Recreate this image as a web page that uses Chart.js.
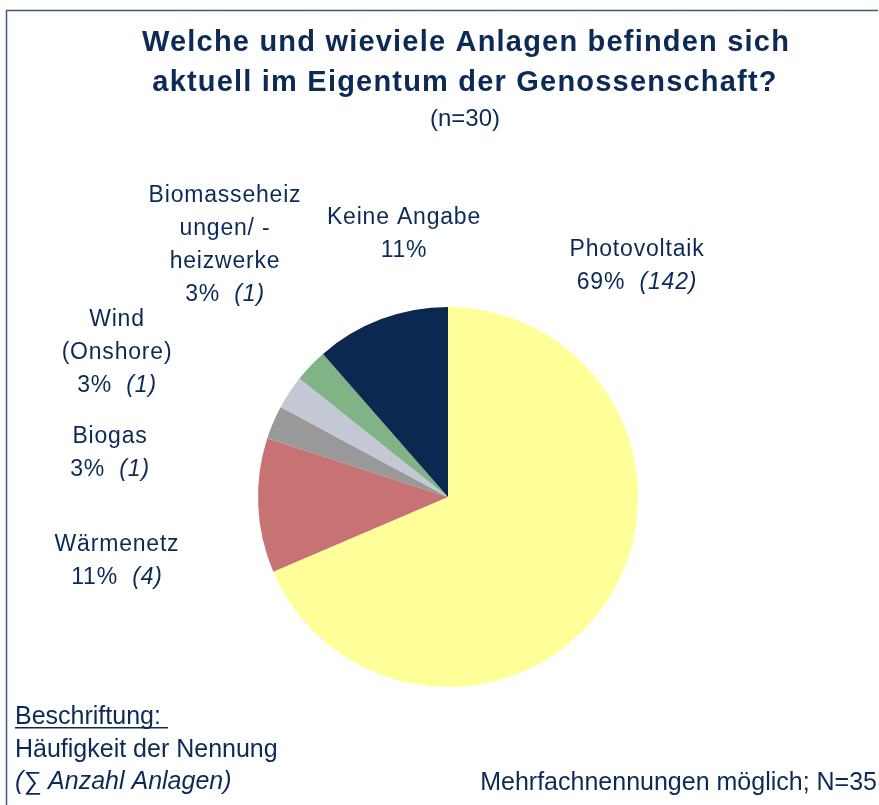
<!DOCTYPE html>
<html lang="de">
<head>
<meta charset="utf-8">
<title>Anlagen im Eigentum der Genossenschaft</title>
<script src="https://cdn.jsdelivr.net/npm/chart.js@4.4.1/dist/chart.umd.min.js"></script>
<style>
  html, body { margin: 0; padding: 0; background: #ffffff; }
  #wrap { position: relative; width: 879px; height: 805px; }
</style>
</head>
<body>
<div id="wrap"><canvas id="pieChart" width="879" height="805"></canvas></div>
<script>
// Data (N=35 Nennungen, n=30 Genossenschaften)
const categories = ['Photovoltaik', 'Wärmenetz', 'Biogas', 'Wind (Onshore)', 'Biomasseheizungen/ -heizwerke', 'Keine Angabe'];
const mentions = [24, 4, 1, 1, 1, 4];
const plantCounts = ['142', '4', '1', '1', '1', null];
const labelLines = [
  ['Photovoltaik'],
  ['Wärmenetz'],
  ['Biogas'],
  ['Wind', '(Onshore)'],
  ['Biomasseheiz', 'ungen/ -', 'heizwerke'],
  ['Keine Angabe']
];
const sliceColors = ['#ffff99', '#c87373', '#999999', '#c3c8d4', '#80b385', '#0b2850'];

const titleLines = ['Welche und wieviele Anlagen befinden sich', 'aktuell im Eigentum der Genossenschaft?'];
const subtitle = '(n=30)';
const legendNote = ['Beschriftung:', 'Häufigkeit der Nennung', '(∑ Anzahl Anlagen)'];
const footNote = 'Mehrfachnennungen möglich; N=35';

// Layout of the free-standing labels (centre x, y of first line)
const labelAnchor = [[637, 250], [117, 545], [110, 437], [117, 320], [225, 196], [404, 218]];
const lineGap = 33;
const textColor = '#0c2a56';
const fontFamily = "'Liberation Sans', Arial, sans-serif";

// Helpers

function percent(i) {
  const total = mentions.reduce((a, b) => a + b, 0);
  return Math.round(mentions[i] / total * 100) + '%';
}

function drawPctLine(ctx, i, x, y) {
  const pct = percent(i);
  const cnt = plantCounts[i] ? '(' + plantCounts[i] + ')' : '';
  ctx.font = '23px ' + fontFamily;
  const w1 = ctx.measureText(pct + (cnt ? '  ' : '')).width;
  ctx.font = 'italic 23px ' + fontFamily;
  const w2 = cnt ? ctx.measureText(cnt).width : 0;
  let start = x - (w1 + w2) / 2;
  ctx.textAlign = 'left';
  ctx.font = '23px ' + fontFamily;
  ctx.fillText(pct, start, y);
  if (cnt) {
    ctx.font = 'italic 23px ' + fontFamily;
    ctx.fillText(cnt, start + w1, y);
  }
}

const annotations = {
  id: 'annotations',
  beforeDraw(chart) {
    const ctx = chart.ctx;
    ctx.save();
    // frame
    ctx.strokeStyle = '#3d5a78';
    ctx.lineWidth = 1.5;
    ctx.beginPath();
    ctx.moveTo(6.5, 805);
    ctx.lineTo(6.5, 10.5);
    ctx.lineTo(878, 10.5);
    ctx.stroke();
    ctx.restore();
  },
  afterDraw(chart) {
    const ctx = chart.ctx;
    ctx.save();
    ctx.fillStyle = textColor;
    ctx.textBaseline = 'alphabetic';

    // title
    ctx.textAlign = 'center';
    ctx.font = 'bold 29px ' + fontFamily;
    ctx.letterSpacing = '1.2px';
    ctx.fillText(titleLines[0], 466, 51);
    ctx.fillText(titleLines[1], 465, 91);
    ctx.letterSpacing = '0px';
    ctx.font = '24px ' + fontFamily;
    ctx.fillText(subtitle, 465, 126);

    // slice labels
    ctx.letterSpacing = '0.8px';
    ctx.textBaseline = 'middle';
    labelLines.forEach((lines, i) => {
      const [x, y] = labelAnchor[i];
      ctx.textAlign = 'center';
      ctx.font = '23px ' + fontFamily;
      lines.forEach((line, k) => ctx.fillText(line, x, y + k * lineGap));
      drawPctLine(ctx, i, x, y + lines.length * lineGap);
    });
    ctx.letterSpacing = '0px';

    // notes at the bottom
    ctx.textBaseline = 'alphabetic';
    ctx.textAlign = 'left';
    ctx.font = '25px ' + fontFamily;
    ctx.fillText(legendNote[0], 15, 724);
    const uw = ctx.measureText(legendNote[0] + ' ').width;
    ctx.fillRect(15, 727, uw, 1.5);
    ctx.fillText(legendNote[1], 15, 757);
    ctx.font = 'italic 25px ' + fontFamily;
    ctx.fillText(legendNote[2], 15, 789);
    ctx.font = '25px ' + fontFamily;
    ctx.textAlign = 'right';
    ctx.fillText(footNote, 877, 790);
    ctx.restore();
  }
};

new Chart(document.getElementById('pieChart'), {
  type: 'pie',
  data: {
    labels: categories,
    datasets: [{
      data: mentions,
      backgroundColor: sliceColors,
      borderWidth: 0
    }]
  },
  options: {
    responsive: false,
    animation: false,
    layout: { padding: { left: 258, right: 241, top: 307, bottom: 118 } },
    plugins: {
      legend: { display: false },
      tooltip: { enabled: false }
    }
  },
  plugins: [annotations]
});
</script>
</body>
</html>
